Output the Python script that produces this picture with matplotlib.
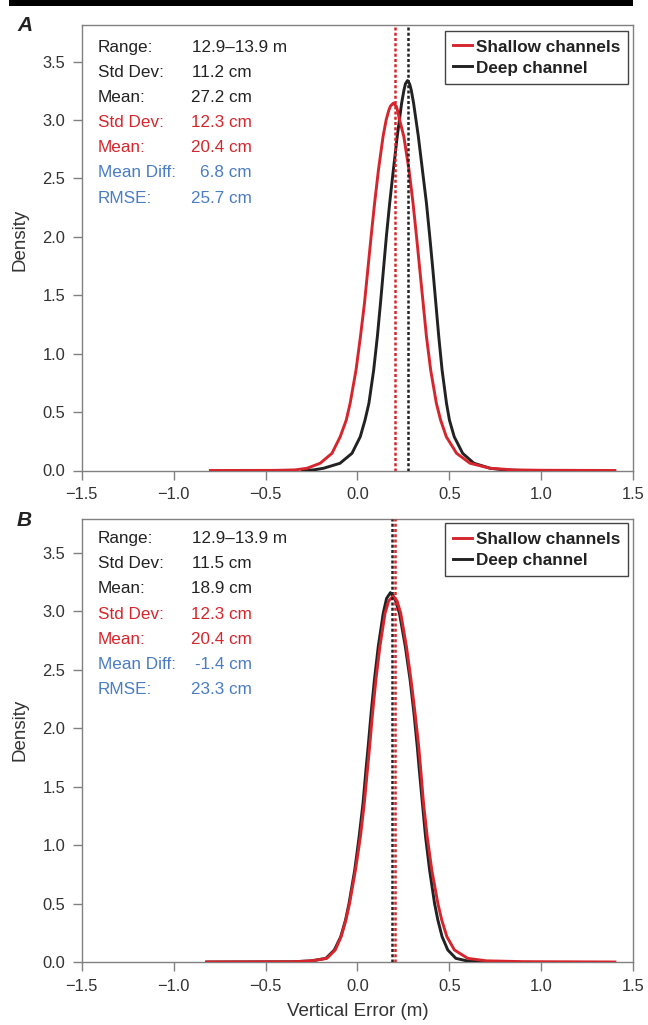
import matplotlib
matplotlib.use("Agg")
import matplotlib.pyplot as plt
from matplotlib.patches import Rectangle
from matplotlib.lines import Line2D

# ---------------- data ----------------
# Panel A
a_shallow_x = [-0.80, -0.45, -0.34, -0.275, -0.203, -0.139, -0.094, -0.061, -0.040, -0.008,
               0.016, 0.038, 0.056, 0.074, 0.093, 0.114, 0.139, 0.156, 0.171, 0.180, 0.195,
               0.210, 0.217, 0.229, 0.252, 0.280, 0.302, 0.321, 0.339, 0.357, 0.375, 0.398,
               0.429, 0.452, 0.483, 0.539, 0.612, 0.722, 0.85, 1.00, 1.40]
a_shallow_y = [0.0, 0.001, 0.005, 0.019, 0.062, 0.147, 0.289, 0.432, 0.575, 0.860,
               1.146, 1.432, 1.717, 2.002, 2.288, 2.573, 2.858, 3.001, 3.086, 3.120, 3.144,
               3.120, 3.086, 3.001, 2.858, 2.573, 2.288, 2.002, 1.717, 1.432, 1.146, 0.860,
               0.575, 0.432, 0.289, 0.147, 0.062, 0.019, 0.005, 0.002, 0.0]
a_deep_x = [-0.30, -0.24, -0.185, -0.095, -0.030, 0.015, 0.041, 0.062, 0.088, 0.108,
            0.125, 0.141, 0.157, 0.175, 0.195, 0.216, 0.240, 0.253, 0.261, 0.272, 0.283,
            0.292, 0.305, 0.331, 0.353, 0.375, 0.393, 0.410, 0.426, 0.442, 0.460, 0.484,
            0.500, 0.526, 0.572, 0.633, 0.722, 0.80, 0.90]
a_deep_y = [0.0, 0.005, 0.019, 0.062, 0.147, 0.289, 0.432, 0.575, 0.860, 1.146,
            1.432, 1.717, 2.002, 2.288, 2.573, 2.858, 3.144, 3.258, 3.310, 3.337, 3.310,
            3.258, 3.144, 2.858, 2.573, 2.288, 2.002, 1.717, 1.432, 1.146, 0.860, 0.575,
            0.432, 0.289, 0.147, 0.062, 0.019, 0.005, 0.0]

# Panel B
b_shallow_x = [-0.82, -0.35, -0.25, -0.167, -0.121, -0.089, -0.063, -0.043, -0.011, 0.016,
               0.037, 0.054, 0.066, 0.082, 0.100, 0.122, 0.150, 0.170, 0.194, 0.215,
               0.235, 0.266, 0.291, 0.313, 0.333, 0.344, 0.359, 0.379, 0.404, 0.437,
               0.458, 0.486, 0.527, 0.600, 0.70, 0.90, 1.40]
b_shallow_y = [0.0, 0.002, 0.010, 0.031, 0.103, 0.217, 0.360, 0.502, 0.788, 1.073,
               1.359, 1.644, 1.843, 2.129, 2.414, 2.700, 2.985, 3.090, 3.130, 3.090,
               2.985, 2.700, 2.414, 2.129, 1.843, 1.644, 1.359, 1.073, 0.788, 0.502,
               0.360, 0.217, 0.103, 0.031, 0.010, 0.003, 0.0]
b_deep_x = [-0.82, -0.35, -0.25, -0.172, -0.126, -0.091, -0.065, -0.046, -0.015, 0.009,
            0.030, 0.046, 0.058, 0.074, 0.092, 0.113, 0.140, 0.158, 0.179, 0.203,
            0.228, 0.260, 0.286, 0.307, 0.325, 0.336, 0.353, 0.370, 0.392, 0.419,
            0.437, 0.460, 0.491, 0.535, 0.60, 0.68, 0.78]
b_deep_y = [0.0, 0.002, 0.010, 0.031, 0.103, 0.217, 0.360, 0.502, 0.788, 1.073,
            1.359, 1.644, 1.843, 2.129, 2.414, 2.700, 2.985, 3.110, 3.160, 3.110,
            2.985, 2.700, 2.414, 2.129, 1.843, 1.644, 1.359, 1.073, 0.788, 0.502,
            0.360, 0.217, 0.103, 0.031, 0.008, 0.002, 0.0]

a_mean_shallow, a_mean_deep = 0.204, 0.272
b_mean_shallow, b_mean_deep = 0.204, 0.189

stat_labels = ["Range:", "Std Dev:", "Mean:", "Std Dev:", "Mean:", "Mean Diff:", "RMSE:"]
a_stat_values = ["12.9\u201313.9 m", "11.2 cm", "27.2 cm", "12.3 cm", "20.4 cm", "6.8 cm", "25.7 cm"]
b_stat_values = ["12.9\u201313.9 m", "11.5 cm", "18.9 cm", "12.3 cm", "20.4 cm", "-1.4 cm", "23.3 cm"]

series_names = ["Shallow channels", "Deep channel"]
x_ticks = [-1.5, -1.0, -0.5, 0.0, 0.5, 1.0, 1.5]
y_ticks = [0.0, 0.5, 1.0, 1.5, 2.0, 2.5, 3.0, 3.5]
panel_letters = ["A", "B"]

# ---------------- style ----------------
plt.rcParams['font.family'] = ['Liberation Sans', 'DejaVu Sans']
RED = "#d5262d"
BLACK = "#222222"
BLUE = "#4a7cc4"
SPINE = "#808080"
TXT = "#333333"
row_colors = [BLACK, BLACK, BLACK, RED, RED, BLUE, BLUE]

W, H = 648, 1025
fig = plt.figure(figsize=(W / 100, H / 100), dpi=100)


def fx(px):
    return px / W


def fy(py):
    return 1 - py / H


# top black bar
fig.patches.append(Rectangle((fx(9), fy(6)), fx(624), 6 / H, transform=fig.transFigure,
                             facecolor="black", edgecolor="none", zorder=10))

panels = [
    dict(top=25.3, bottom=470.5, ymax=3.81, sx=a_shallow_x, sy=a_shallow_y, dx=a_deep_x,
         dy=a_deep_y, ms=a_mean_shallow, md=a_mean_deep, vals=a_stat_values,
         row0=45.7, step=25.15, letter_y=25.8, dens_y=240, leg_y=31),
    dict(top=519.0, bottom=962.0, ymax=3.79, sx=b_shallow_x, sy=b_shallow_y, dx=b_deep_x,
         dy=b_deep_y, ms=b_mean_shallow, md=b_mean_deep, vals=b_stat_values,
         row0=536.7, step=25.3, letter_y=520.5, dens_y=730, leg_y=523.3),
]

left_px, right_px = 81.7, 633.3

for i, p in enumerate(panels):
    ax = fig.add_axes([fx(left_px), fy(p['bottom']), (right_px - left_px) / W,
                       (p['bottom'] - p['top']) / H])
    ax.set_xlim(-1.5, 1.5)
    ax.set_ylim(0, p['ymax'])
    ax.plot(p['dx'], p['dy'], color=BLACK, lw=2.1, solid_joinstyle='round', zorder=3)
    ax.plot(p['sx'], p['sy'], color=RED, lw=2.1, solid_joinstyle='round', zorder=4)
    ax.axvline(p['md'], color=BLACK, lw=1.8, dashes=(1.2, 0.9), zorder=5)
    ax.axvline(p['ms'], color=RED, lw=1.8, dashes=(1.2, 0.9), zorder=5)

    ax.set_xticks(x_ticks)
    ax.set_xticklabels([f"{t:.1f}".replace("-", "\u2212") for t in x_ticks])
    ax.set_yticks(y_ticks)
    ax.set_yticklabels([f"{t:.1f}" for t in y_ticks])
    ax.tick_params(direction='out', length=6.5, width=1.0, color=SPINE, labelsize=11.9,
                   labelcolor=TXT, pad=5.5)
    for s in ax.spines.values():
        s.set_color(SPINE)
        s.set_linewidth(1.0)

    handles = [Line2D([], [], color=RED, lw=2.1), Line2D([], [], color=BLACK, lw=2.1)]
    ax_h = p['bottom'] - p['top']
    leg = ax.legend(handles, series_names, loc='upper right',
                    bbox_to_anchor=((628.5 - left_px) / (right_px - left_px),
                                    (p['bottom'] - p['leg_y']) / ax_h),
                    borderaxespad=0, frameon=True, fancybox=False, framealpha=1,
                    edgecolor="#444444", borderpad=0.45, labelspacing=0.25,
                    handleheight=1.0, handlelength=1.15, handletextpad=0.25,
                    prop=dict(family=['Liberation Sans', 'DejaVu Sans'], weight='bold',
                              size=12.3))
    leg.get_frame().set_linewidth(1.0)
    for t in leg.get_texts():
        t.set_color("#222222")

    # stats text
    for r, (lab, val) in enumerate(zip(stat_labels, p['vals'])):
        base = p['row0'] + r * p['step'] + 6.0
        fig.text(fx(97.7), fy(base), lab, color=row_colors[r], fontsize=12.3,
                 ha='left', va='baseline')
        if r == 0:
            fig.text(fx(191.7), fy(base), val, color=row_colors[r], fontsize=12.3,
                     ha='left', va='baseline')
        else:
            fig.text(fx(252.0), fy(base), val, color=row_colors[r], fontsize=12.3,
                     ha='right', va='baseline')

    # panel letter
    fig.text(fx(17), fy(p['letter_y']), panel_letters[i], fontsize=15, weight='bold',
             style='italic', color="#222222", ha='left', va='center')
    # y label
    fig.text(fx(20), fy(p['dens_y']), "Density", fontsize=13.5, color=TXT, rotation=90,
             ha='center', va='center')

fig.text(fx(357.5), fy(1012), "Vertical Error (m)", fontsize=13.5, color=TXT,
         ha='center', va='center')

fig.savefig("out.png", dpi=100)
